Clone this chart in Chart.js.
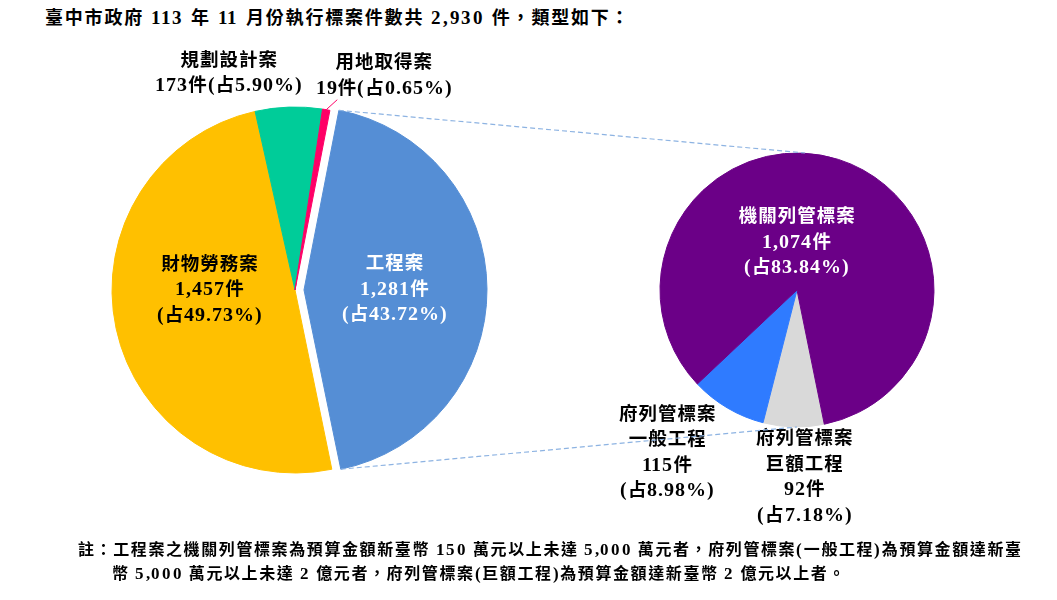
<!DOCTYPE html>
<html>
<head>
<meta charset="utf-8">
<script src="https://cdn.jsdelivr.net/npm/chart.js"></script>
<style>
  @font-face { font-family: "MixLatin"; src: local("Liberation Serif"); font-weight: 400; unicode-range: U+0000-00FF; size-adjust: 108%; }
  @font-face { font-family: "MixLatin"; src: local("Liberation Serif Bold"), local("LiberationSerif-Bold"); font-weight: 700; unicode-range: U+0000-00FF; size-adjust: 108%; }
  body { margin: 0; background: #fff; width: 1057px; height: 600px; position: relative; overflow: hidden;
         font-family: "MixLatin", "Noto Sans CJK TC", serif; color: #000; font-weight: bold; }
  #title { position: absolute; left: 45px; top: 3px; font-size: 18px; letter-spacing: 1.8px; white-space: nowrap; }
  .note { position: absolute; font-size: 16px; letter-spacing: 1.6px; white-space: nowrap; }
  canvas { position: absolute; }
</style>
</head>
<body>
<div id="title">臺中市政府 113 年 11 月份執行標案件數共 2,930 件，類型如下：</div>
<canvas id="left" width="590" height="580" style="left:0;top:0"></canvas>
<canvas id="right" width="460" height="500" style="left:567px;top:40px"></canvas>
<canvas id="links" width="1057" height="600" style="left:0;top:0"></canvas>
<div class="note" style="left:78px;top:536px">註：工程案之機關列管標案為預算金額新臺幣 150 萬元以上未達 5,000 萬元者，府列管標案(一般工程)為預算金額達新臺</div>
<div class="note" style="left:112px;top:560px">幣 5,000 萬元以上未達 2 億元者，府列管標案(巨額工程)為預算金額達新臺幣 2 億元以上者。</div>

<script>
// main pie: all cases
const mainLabels = ['工程案', '財物勞務案', '規劃設計案', '用地取得案'];
const mainCounts = [1281, 1457, 173, 19];
const mainShares = ['43.72%', '49.73%', '5.90%', '0.65%'];
const mainColors = ['#558ED5', '#FFC000', '#00CC99', '#FF0066'];

// secondary pie: breakdown of 工程案
const subLabels = [['府列管標案', '巨額工程'], ['府列管標案', '一般工程'], ['機關列管標案']];
const subCounts = [92, 115, 1074];
const subShares = ['7.18%', '8.98%', '83.84%'];
const subColors = ['#D9D9D9', '#2F7BFF', '#6B0087'];

const fmt = n => n.toLocaleString('en-US');
const FONT = 'bold 18.5px "MixLatin", "Noto Sans CJK TC"';
const EXPLODE = 9;

// label placement relative to each slice centre
const mainText = [
  { lines: [mainLabels[0], fmt(mainCounts[0]) + '件', '(占' + mainShares[0] + ')'], color: '#fff', dx: 8, dy: 0 },
  { lines: [mainLabels[1], fmt(mainCounts[1]) + '件', '(占' + mainShares[1] + ')'], color: '#000', dx: 4, dy: -19 },
  { lines: [mainLabels[2], fmt(mainCounts[2]) + '件(占' + mainShares[2] + ')'], color: '#000', dx: -63, dy: -125 },
  { lines: [mainLabels[3], fmt(mainCounts[3]) + '件(占' + mainShares[3] + ')'], color: '#000', dx: 73, dy: -124, leader: true }
];
const subText = [
  { lines: [...subLabels[0], fmt(subCounts[0]) + '件', '(占' + subShares[0] + ')'], color: '#000', dx: 9, dy: 119 },
  { lines: [...subLabels[1], fmt(subCounts[1]) + '件', '(占' + subShares[1] + ')'], color: '#000', dx: -95, dy: 104 },
  { lines: [...subLabels[2], fmt(subCounts[2]) + '件', '(占' + subShares[2] + ')'], color: '#fff', dx: -21, dy: 18 }
];

// shift one slice outward without changing its radius
const explodeSlice = {
  id: 'explodeSlice',
  afterDatasetUpdate(chart, args, opts) {
    const arc = chart.getDatasetMeta(0).data[opts.index];
    if (!arc || arc._exploded) return;
    const baseDraw = Object.getPrototypeOf(arc).draw;
    arc.draw = function (ctx) {
      const mid = (this.startAngle + this.endAngle) / 2;
      ctx.save();
      ctx.translate(Math.cos(mid) * opts.distance, Math.sin(mid) * opts.distance);
      baseDraw.call(this, ctx);
      ctx.restore();
    };
    arc._exploded = true;
  }
};

const sliceText = {
  id: 'sliceText',
  afterDatasetsDraw(chart, args, opts) {
    const ctx = chart.ctx;
    const arcs = chart.getDatasetMeta(0).data;
    ctx.save();
    ctx.font = opts.font;
    ctx.textAlign = 'center';
    ctx.textBaseline = 'middle';
    if ('letterSpacing' in ctx) ctx.letterSpacing = opts.spacing + 'px';
    opts.items.forEach((it, i) => {
      const arc = arcs[i];
      const p = arc.getCenterPoint();
      const x = p.x + it.dx + opts.spacing / 2;
      const y0 = p.y + it.dy - (it.lines.length - 1) * opts.lineHeight / 2;
      ctx.fillStyle = it.color;
      it.lines.forEach((t, k) => ctx.fillText(t, x, y0 + k * opts.lineHeight));
      if (it.leader) {
        const mid = (arc.startAngle + arc.endAngle) / 2;
        const sx = arc.x + Math.cos(mid) * arc.outerRadius;
        const sy = arc.y + Math.sin(mid) * arc.outerRadius;
        ctx.strokeStyle = arc.options.backgroundColor;
        ctx.lineWidth = 1;
        ctx.beginPath();
        ctx.moveTo(sx, sy);
        ctx.lineTo(sx + 11, sy - 10);
        ctx.stroke();
      }
    });
    ctx.restore();
  }
};

function pieOptions(radius, rotation, items, explodeIndex) {
  return {
    responsive: false,
    animation: false,
    events: [],
    radius: radius,
    rotation: rotation,
    layout: { padding: 0 },
    plugins: {
      legend: { display: false },
      tooltip: { enabled: false },
      explodeSlice: { index: explodeIndex, distance: EXPLODE },
      sliceText: { items: items, font: FONT, spacing: 1, lineHeight: 25.5 }
    }
  };
}

const leftChart = new Chart(document.getElementById('left'), {
  type: 'pie',
  data: {
    labels: mainLabels,
    datasets: [{
      data: mainCounts,
      backgroundColor: mainColors,
      borderColor: mainColors,
      borderWidth: 1
    }]
  },
  options: pieOptions(183, 11, mainText, 0),
  plugins: [explodeSlice, sliceText]
});

const rightChart = new Chart(document.getElementById('right'), {
  type: 'pie',
  data: {
    labels: subLabels.map(l => l.join('')),
    datasets: [{
      data: subCounts,
      backgroundColor: subColors,
      borderColor: subColors,
      borderWidth: 1
    }]
  },
  options: pieOptions(137, 168.5, subText, -1),
  plugins: [explodeSlice, sliceText]
});

// dashed connectors from the exploded slice to the secondary pie
function drawLinks() {
  const ctx = document.getElementById('links').getContext('2d');
  ctx.clearRect(0, 0, 1057, 600);
  const arc = leftChart.getDatasetMeta(0).data[0];
  const mid = (arc.startAngle + arc.endAngle) / 2;
  const ox = arc.x + Math.cos(mid) * EXPLODE;
  const oy = arc.y + Math.sin(mid) * EXPLODE;
  const r = arc.outerRadius;
  const a = [ox + Math.cos(arc.startAngle) * r, oy + Math.sin(arc.startAngle) * r];
  const b = [ox + Math.cos(arc.endAngle) * r, oy + Math.sin(arc.endAngle) * r];
  const rc = rightChart.getDatasetMeta(0).data[0];
  const cx = rc.x + 567, cy = rc.y + 40, rr = rc.outerRadius;
  ctx.strokeStyle = '#8DB3E2';
  ctx.lineWidth = 1.2;
  ctx.setLineDash([5, 3]);
  ctx.beginPath();
  ctx.moveTo(a[0], a[1]); ctx.lineTo(cx + 8, cy - rr);
  ctx.moveTo(b[0], b[1]); ctx.lineTo(cx, cy + rr);
  ctx.stroke();
}
drawLinks();

// redraw once the mapped latin face is ready for canvas text
document.fonts.load(FONT, '1,457件').then(() => {
  leftChart.draw();
  rightChart.draw();
});
</script>
</body>
</html>
